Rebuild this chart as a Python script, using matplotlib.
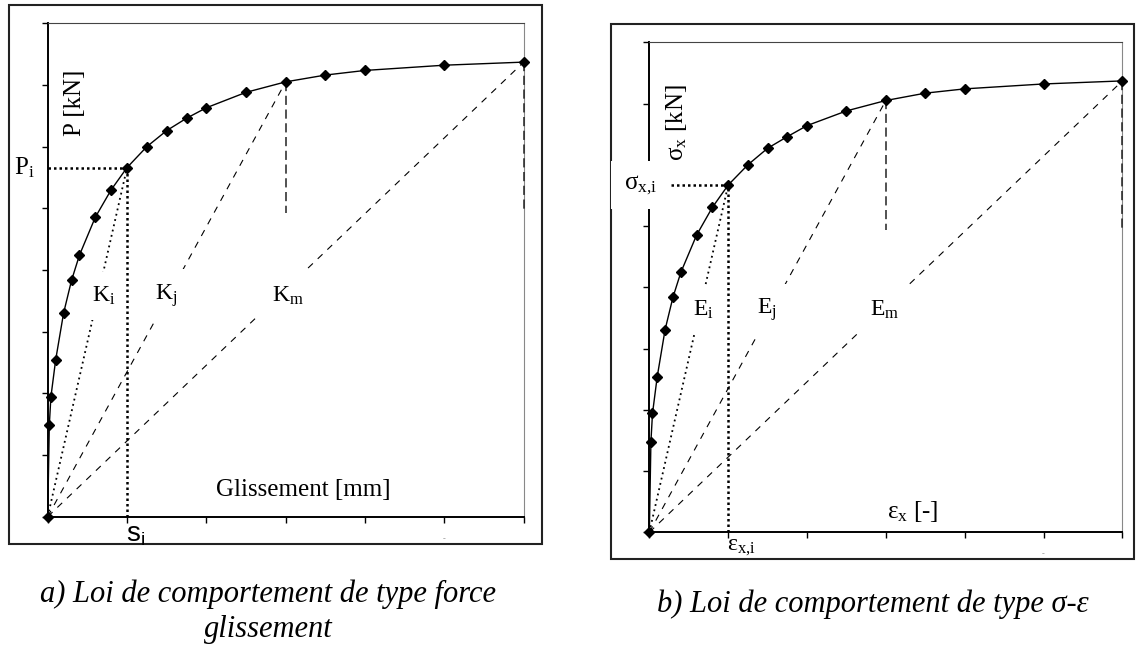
import matplotlib.pyplot as plt
from matplotlib.patches import Rectangle

plt.rcParams["font.family"] = ["Liberation Serif", "DejaVu Serif"]
plt.rcParams["mathtext.default"] = "regular"

# a) force - slip curve
slip = [0, 0.02, 0.04, 0.1, 0.2, 0.3, 0.4, 0.6, 0.8, 1.0,
        1.25, 1.5, 1.75, 2.0, 2.5, 3.0, 3.5, 4.0, 5.0, 6.0]
force = [0, 1.48, 1.94, 2.54, 3.30, 3.83, 4.24, 4.855, 5.30, 5.66,
         6.0, 6.26, 6.46, 6.63, 6.88, 7.05, 7.16, 7.235, 7.32, 7.37]

# b) stress - strain curve
strain = [0, 0.02, 0.04, 0.1, 0.2, 0.3, 0.4, 0.6, 0.8, 1.0,
          1.25, 1.5, 1.75, 2.0, 2.5, 3.0, 3.5, 4.0, 5.0, 6.0]
stress = [0, 1.48, 1.94, 2.54, 3.31, 3.84, 4.245, 4.854, 5.306, 5.67,
          6.0, 6.27, 6.46, 6.64, 6.88, 7.05, 7.17, 7.24, 7.32, 7.37]

# indices of the points used for the secant moduli i, j, m
i_pt, j_pt, m_pt = 9, 15, 19
drop_to = 4.93  # lower end of the dashed verticals

x_ticks = [0, 1, 2, 3, 4, 5, 6]
y_ticks = [0, 1, 2, 3, 4, 5, 6, 7, 8]
x_ticklabels = ["", "", "", "", "", "-", ""]

label_box = dict(fc="white", ec="none", boxstyle="square,pad=0.55")


def draw_panel(ax, x, y, sec_names, sec_x, sec_y):
    ax.set_xlim(0, 6)
    ax.set_ylim(0, 8)
    ax.set_facecolor("none")
    ax.set_xticks(x_ticks)
    ax.set_yticks(y_ticks)
    ax.set_xticklabels(x_ticklabels, fontsize=6, color="#888888")
    ax.set_yticklabels([])
    ax.tick_params(direction="out", length=4, width=1, color="black", pad=9)
    ax.spines["left"].set_linewidth(1.4)
    ax.spines["bottom"].set_linewidth(1.4)
    ax.spines["top"].set_color("#444444")
    ax.spines["right"].set_color("#888888")

    ax.plot(x, y, color="black", lw=1, marker="D", ms=5.5, clip_on=False, zorder=7)

    # secant lines from the origin
    ax.plot([0, x[i_pt]], [0, y[i_pt]], color="black", lw=1.3, ls=(0, (1, 2)), zorder=2)
    ax.plot([0, x[j_pt]], [0, y[j_pt]], color="black", lw=0.8, ls=(0, (6, 6)), zorder=2)
    ax.plot([0, x[m_pt]], [0, y[m_pt]], color="black", lw=0.8, ls=(0, (6, 6)), zorder=2)

    # dashed verticals under points j and m
    for k in (j_pt, m_pt):
        ax.plot([x[k], x[k]], [y[k], drop_to], color="#222222", lw=1.1,
                ls=(0, (6, 3)), clip_on=False, zorder=6)

    # dotted guides to point i
    ax.plot([0, x[i_pt]], [y[i_pt], y[i_pt]], color="black", lw=1.8,
            ls=(0, (1, 1.2)), zorder=4)
    ax.plot([x[i_pt], x[i_pt]], [0, y[i_pt]], color="black", lw=1.8,
            ls=(0, (1, 1.2)), zorder=4)

    for name, tx in zip(sec_names, sec_x):
        ax.text(tx, sec_y, name, fontsize=17, ha="center", va="center",
                bbox=label_box, zorder=3)


fig = plt.figure(figsize=(11.36, 6.46), dpi=100)

fig.add_artist(Rectangle((0.0079, 0.1579), 0.4692, 0.8344, transform=fig.transFigure,
                         fill=False, ec="#222222", lw=1.5, zorder=-1))
fig.add_artist(Rectangle((0.5379, 0.1347), 0.4604, 0.828, transform=fig.transFigure,
                         fill=False, ec="#222222", lw=1.5, zorder=-1))

ax1 = fig.add_axes([0.042, 0.2002, 0.419, 0.7638])
draw_panel(ax1, slip, force, ["K$_{i}$", "K$_{j}$", "K$_{m}$"], [0.71, 1.49, 3.03], 3.58)
ax1.text(0.35, 6.71, "P [kN]", rotation=90, fontsize=18, ha="center", va="center")
ax1.text(2.12, 0.43, "Glissement [mm]", fontsize=18, ha="left", va="center")
ax1.text(-0.16, force[i_pt], "P$_{i}$", fontsize=18, ha="right", va="center")
ax1.text(0.99, -0.3, "s$_{i}$", fontsize=20, family="Liberation Sans",
         ha="left", va="center", clip_on=False)

ax2 = fig.add_axes([0.5716, 0.176, 0.4164, 0.7585])
draw_panel(ax2, strain, stress, ["E$_{i}$", "E$_{j}$", "E$_{m}$"], [0.685, 1.49, 2.99], 3.63)
ax2.text(0.35, 6.68, "σ$_{x}$ [kN]", rotation=90, fontsize=18, ha="center", va="center")
ax2.text(3.015, 0.336, "ε$_{x}$ [-]", fontsize=18, ha="left", va="center")
ax2.text(0.1, stress[i_pt], "σ$_{x{,}i}$", fontsize=18, ha="right", va="center",
         bbox=dict(fc="white", ec="none", boxstyle="square,pad=0.5"),
         clip_on=False, zorder=6)
ax2.text(0.98, -0.24, "ε$_{x{,}i}$", fontsize=17, ha="left", va="center", clip_on=False)

fig.text(0.2359, 0.0805, "a) Loi de comportement de type force",
         fontsize=22, style="italic", ha="center", va="center")
fig.text(0.2359, 0.0263, "glissement", fontsize=22, style="italic",
         ha="center", va="center")
fig.text(0.7685, 0.065, "b) Loi de comportement de type σ-ε",
         fontsize=22, style="italic", ha="center", va="center")

fig.savefig("out.png", dpi=100)
